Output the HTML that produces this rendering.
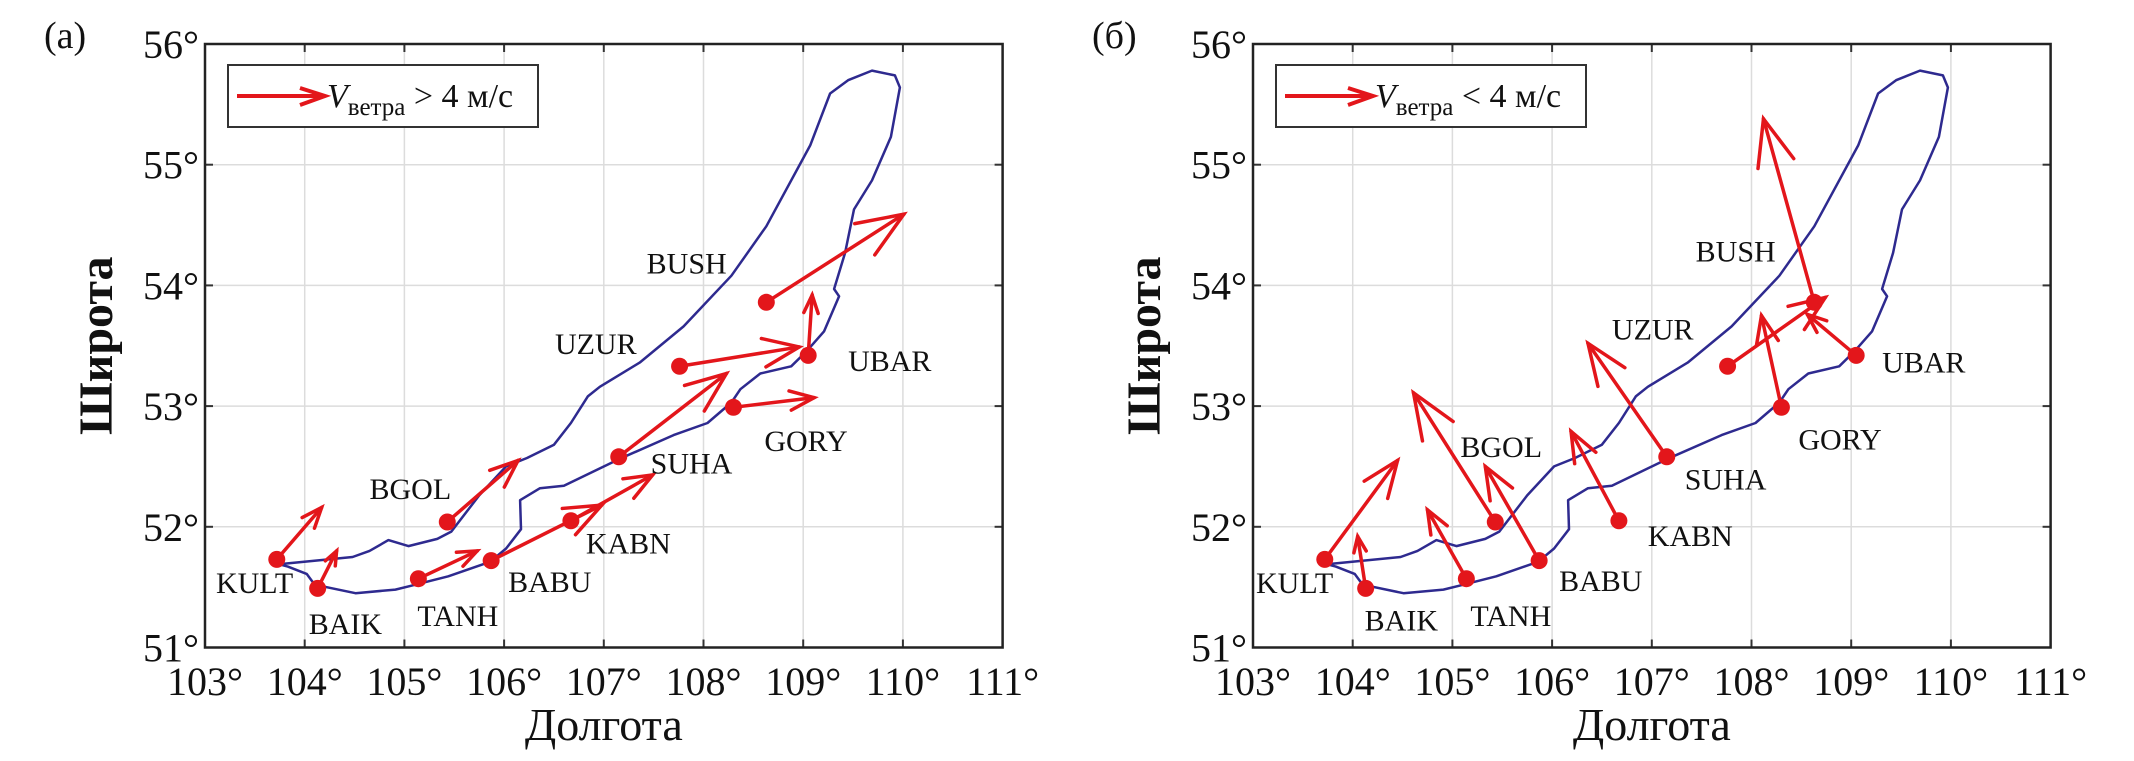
<!DOCTYPE html>
<html><head><meta charset="utf-8">
<style>
html,body{margin:0;padding:0;background:#fff;}
svg{display:block;font-family:"Liberation Serif",serif;}
</style></head>
<body>
<svg id="chart" width="2134" height="761" viewBox="0 0 2134 761" xmlns="http://www.w3.org/2000/svg"></svg>
<script>
// ---- data ----
const stations = ["KULT","BAIK","TANH","BABU","BGOL","KABN","SUHA","GORY","UZUR","UBAR","BUSH"];
const stationLon = [103.72,104.13,105.14,105.87,105.43,106.67,107.15,108.30,107.76,109.05,108.63];
const stationLat = [51.73,51.49,51.57,51.72,52.04,52.05,52.58,52.99,53.33,53.42,53.86];
// arrow tip coordinates, panel (a) V > 4 m/s
const tipLonA = [104.17,104.32,105.73,106.98,106.14,107.49,108.23,109.11,108.96,109.09,110.01];
const tipLatA = [52.16,51.80,51.80,52.18,52.55,52.43,53.27,53.07,53.49,53.92,54.59];
// arrow tip coordinates, panel (b) V < 4 m/s
const tipLonB = [104.45,104.05,104.75,105.33,104.61,106.19,106.36,108.10,108.74,108.56,108.12];
const tipLatB = [52.55,51.92,52.14,52.50,53.11,52.79,53.52,53.75,53.90,53.76,55.38];
// label anchors (text start, baseline)
const labLonA = [103.11,104.04,105.13,106.04,104.65,106.82,107.47,108.61,106.51,109.45,107.43];
const labLatA = [51.45,51.11,51.18,51.46,52.23,51.78,52.44,52.63,53.43,53.29,54.10];
const labLonB = [103.03,104.12,105.18,106.07,105.08,106.96,107.33,108.47,106.60,109.31,107.44];
const labLatB = [51.45,51.14,51.18,51.47,52.58,51.84,52.31,52.64,53.55,53.28,54.20];
// lake outline
const lakeLon = [103.74,104.48,104.65,104.84,105.04,105.33,105.47,105.75,106.02,106.23,106.50,106.67,106.84,106.96,107.36,107.80,108.28,108.63,109.07,109.27,109.45,109.69,109.92,109.97,109.88,109.69,109.51,109.42,109.31,109.36,109.21,109.04,108.88,108.57,108.37,108.28,108.04,107.70,107.15,106.60,106.36,106.16,106.17,106.02,105.86,105.44,105.06,104.91,104.51,104.10,104.02,103.83,103.74];
const lakeLat = [51.69,51.75,51.80,51.89,51.84,51.90,51.96,52.26,52.50,52.57,52.68,52.86,53.08,53.16,53.36,53.66,54.08,54.49,55.16,55.59,55.70,55.78,55.74,55.64,55.23,54.87,54.63,54.27,53.97,53.91,53.62,53.46,53.33,53.27,53.14,53.03,52.86,52.76,52.56,52.34,52.32,52.22,51.98,51.82,51.71,51.59,51.51,51.48,51.45,51.52,51.61,51.67,51.69];
const xTicks = [103,104,105,106,107,108,109,110,111];
const yTicks = [51,52,53,54,55,56];

const NS="http://www.w3.org/2000/svg";
const svg=document.getElementById('chart');
function mk(tag,attrs,parent){const e=document.createElementNS(NS,tag);for(const k in attrs)e.setAttribute(k,attrs[k]);(parent||svg).appendChild(e);return e;}

function drawPanel(pid,left,tipLon,tipLat,labLon,labLat,panelLetter,legendOp){
  const top=44,bottom=647.5,right=left+797.6;
  const xs=lon=>left+(lon-103)*(right-left)/8;
  const ys=lat=>top+(56-lat)*(bottom-top)/5;
  const g=mk('g',{});
  
  
  xTicks.forEach(t=>{ if(t>103&&t<111){const l=mk('line',{x1:xs(t),x2:xs(t),y1:top,y2:bottom,stroke:'#dcdcdc','stroke-width':1.5},g);
    
    mk('line',{x1:xs(t),x2:xs(t),y1:bottom,y2:bottom-8,stroke:'#333','stroke-width':2},g);
    mk('line',{x1:xs(t),x2:xs(t),y1:top,y2:top+8,stroke:'#333','stroke-width':2},g);}
    const tx=mk('text',{x:xs(t),y:695,'font-size':40,'text-anchor':'middle',fill:'#111'},g);tx.textContent=t+'°';
    
  });
  yTicks.forEach(t=>{ if(t>51&&t<56){const l=mk('line',{x1:left,x2:right,y1:ys(t),y2:ys(t),stroke:'#dcdcdc','stroke-width':1.5},g);
    
    mk('line',{x1:left,x2:left+8,y1:ys(t),y2:ys(t),stroke:'#333','stroke-width':2},g);
    mk('line',{x1:right,x2:right-8,y1:ys(t),y2:ys(t),stroke:'#333','stroke-width':2},g);}
    const tx=mk('text',{x:left-6,y:ys(t)+14,'font-size':40,'text-anchor':'end',fill:'#111'},g);tx.textContent=t+'°';
    
  });
  const box=mk('rect',{x:left,y:top,width:right-left,height:bottom-top,fill:'none',stroke:'#222','stroke-width':2.5},g);
  
  const pts=lakeLon.map((v,i)=>xs(v).toFixed(1)+','+ys(lakeLat[i]).toFixed(1)).join(' ');
  const lake=mk('polyline',{points:pts,fill:'none',stroke:'#2e2a8f','stroke-width':2.5,'stroke-linejoin':'round'},g);
  
  stations.forEach((s,i)=>{
    const x0=xs(stationLon[i]),y0=ys(stationLat[i]),x1=xs(tipLon[i]),y1=ys(tipLat[i]);
    const dx=x1-x0,dy=y1-y0,len=Math.hypot(dx,dy),a=Math.atan2(dy,dx);
    const h=Math.max(15,Math.min(50,len*0.32)),sp=0.38;
    const ag=mk('g',{stroke:'#e3161b','stroke-width':3.5,fill:'none','stroke-linecap':'round'},g);
    
    
    mk('line',{x1:x0,y1:y0,x2:x1,y2:y1},ag);
    mk('polyline',{points:`${x1-h*Math.cos(a-sp)},${y1-h*Math.sin(a-sp)} ${x1},${y1} ${x1-h*Math.cos(a+sp)},${y1-h*Math.sin(a+sp)}`},ag);
  });
  stations.forEach((s,i)=>{
    const c=mk('circle',{cx:xs(stationLon[i]),cy:ys(stationLat[i]),r:8.5,fill:'#e3161b'},g);
    
    const t=mk('text',{x:xs(labLon[i]),y:ys(labLat[i]),'font-size':30,fill:'#111'},g);t.textContent=s;
    
  });
  const lg=mk('g',{},g);
  
  mk('rect',{x:left+23,y:65,width:310,height:62,fill:'#fff',stroke:'#333','stroke-width':2},lg);
  mk('line',{x1:left+32,y1:96,x2:left+118,y2:96,stroke:'#e3161b','stroke-width':4},lg);
  mk('polyline',{points:`${left+95},${88} ${left+120},${96} ${left+95},${105}`,stroke:'#e3161b','stroke-width':4,fill:'none'},lg);
  const lt=mk('text',{x:left+122,y:107,'font-size':34,fill:'#111'},lg);
  lt.innerHTML='<tspan font-style="italic">V</tspan><tspan font-size="25" dy="8">ветра</tspan><tspan dy="-8"> '+legendOp+' 4 м/с</tspan>';
  const xt=mk('text',{x:(left+right)/2,y:740,'font-size':46,'text-anchor':'middle',fill:'#111'},g);xt.textContent='Долгота';
  
  const yt=mk('text',{x:0,y:0,'font-size':48,'font-weight':'bold','text-anchor':'middle',fill:'#111',transform:`translate(${left-93},${(top+bottom)/2}) rotate(-90)`},g);yt.textContent='Широта';
  
  const pl=mk('text',{x:left-161,y:48,'font-size':38,fill:'#111'},g);pl.textContent=panelLetter;
  
}
drawPanel('a',205,tipLonA,tipLatA,labLonA,labLatA,'(a)','&gt;');
drawPanel('b',1253,tipLonB,tipLatB,labLonB,labLatB,'(б)','&lt;');
</script>
</body></html>
